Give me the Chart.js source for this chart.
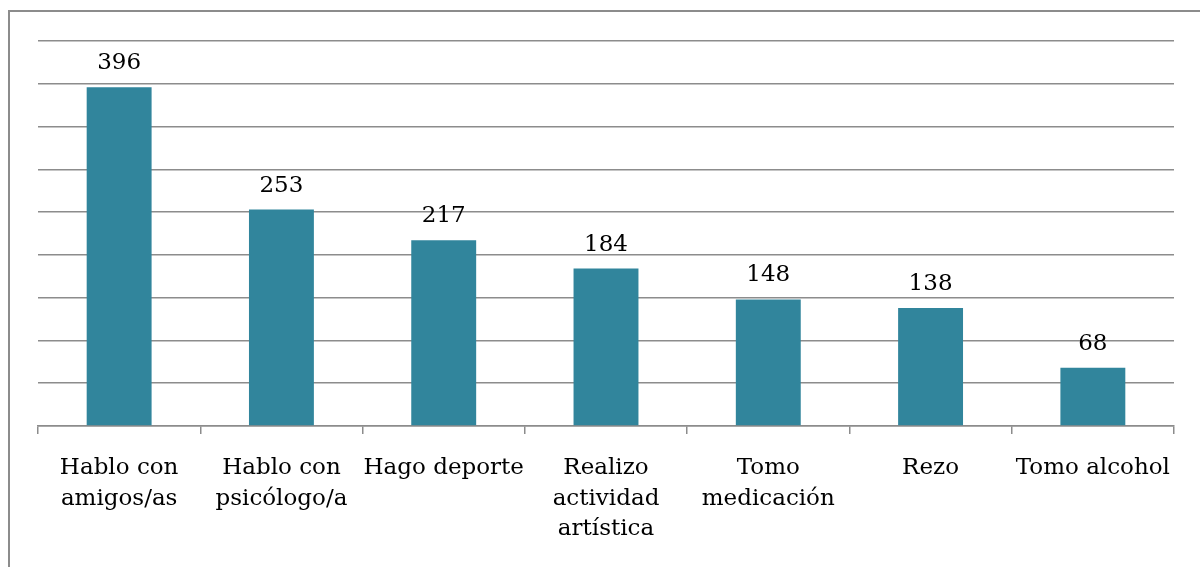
<!DOCTYPE html>
<html>
<head>
<meta charset="utf-8">
<script src="https://cdn.jsdelivr.net/npm/chart.js@4"></script>
<style>
  body { margin: 0; background: #fff; }
  #wrap { position: relative; width: 1200px; height: 567px; overflow: hidden; }
  #frame { position: absolute; left: 8px; top: 10px; width: 1300px; height: 700px;
           border-left: 2px solid #8c8c8c; border-top: 2px solid #8c8c8c; }
  canvas { position: absolute; left: 0; top: 0; }
</style>
</head>
<body>
<div id="wrap">
  <div id="frame"></div>
  <canvas id="bar" width="1200" height="567"></canvas>
</div>
<script>
// categories (wrapped the same way as the picture) and counts
let categories = [
  ["Hablo con", "amigos/as"],
  ["Hablo con", "psicólogo/a"],
  ["Hago deporte"],
  ["Realizo", "actividad", "artística"],
  ["Tomo", "medicación"],
  ["Rezo"],
  ["Tomo alcohol"]
];
let counts = [396, 253, 217, 184, 148, 138, 68];

let serif = "'DejaVu Serif', serif";
let gridGray = "#8c8c8c";

// write the value above every bar
let valueLabels = {
  id: "valueLabels",
  afterDatasetsDraw(chart) {
    let ctx = chart.ctx;
    let meta = chart.getDatasetMeta(0);
    ctx.save();
    ctx.font = "23px " + serif;
    ctx.fillStyle = "#000";
    ctx.textAlign = "center";
    ctx.textBaseline = "alphabetic";
    meta.data.forEach(function(bar, i) {
      ctx.fillText(String(counts[i]), bar.x, bar.y - 18);
    });
    ctx.restore();
  }
};

new Chart(document.getElementById("bar"), {
  type: "bar",
  data: {
    labels: categories,
    datasets: [{
      data: counts,
      backgroundColor: "#31859c",
      barPercentage: 0.4,
      categoryPercentage: 1
    }]
  },
  options: {
    responsive: false,
    animation: false,
    layout: { padding: { top: 41, left: 38, right: 26, bottom: 0 } },
    plugins: {
      legend: { display: false },
      tooltip: { enabled: false }
    },
    scales: {
      x: {
        grid: { drawOnChartArea: false, drawTicks: true, tickLength: 8, color: gridGray, lineWidth: 1.5 },
        border: { color: gridGray, width: 1.5 },
        ticks: { color: "#000", font: { family: serif, size: 23, lineHeight: 1.33 }, padding: 19, maxRotation: 0, autoSkip: false },
        afterFit(scale) { scale.height = 141; }
      },
      y: {
        min: 0,
        max: 450,
        ticks: { display: false, stepSize: 50 },
        grid: { drawTicks: false, color: gridGray, lineWidth: 1.5 },
        border: { display: false }
      }
    }
  },
  plugins: [valueLabels]
});
</script>
</body>
</html>
